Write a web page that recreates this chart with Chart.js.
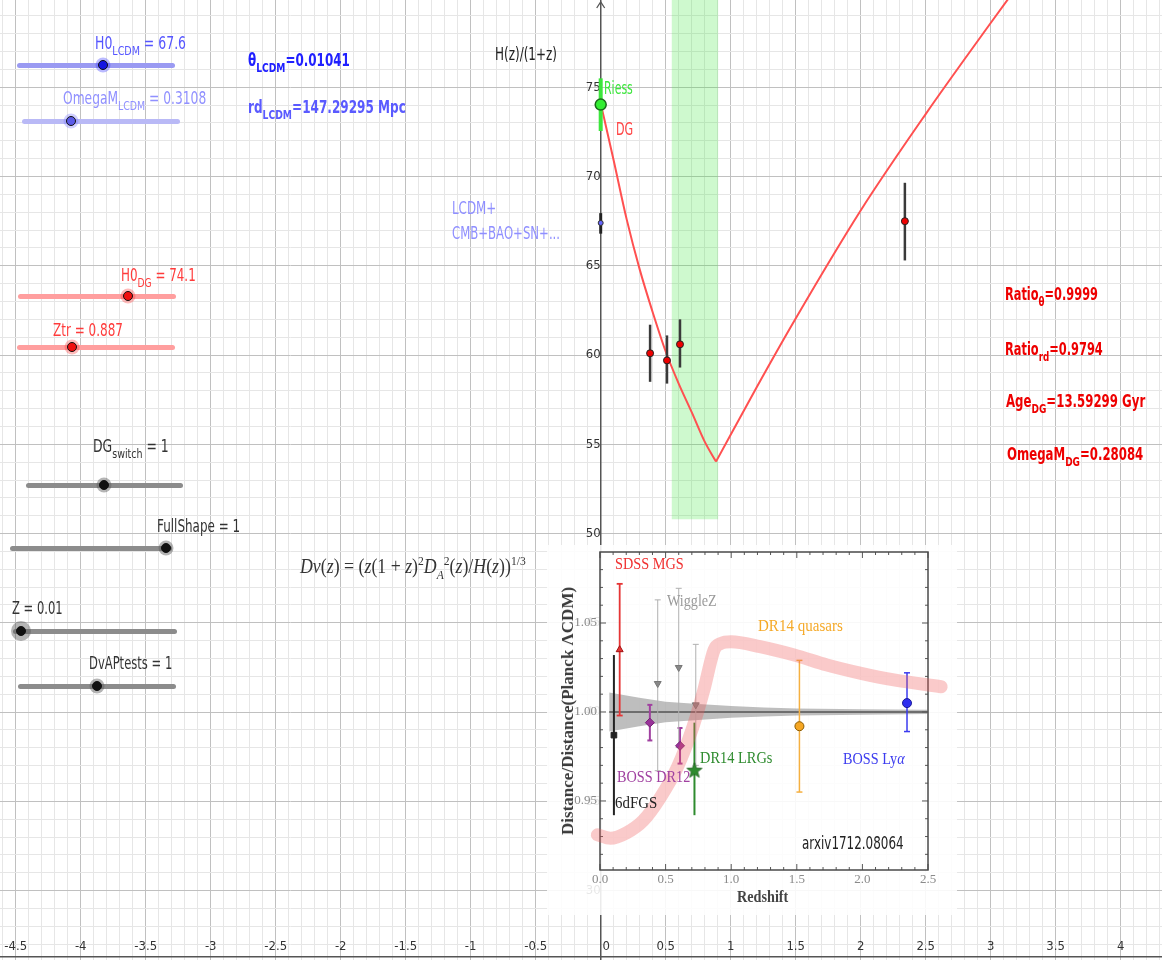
<!DOCTYPE html>
<html>
<head>
<meta charset="utf-8">
<title>DG vs LCDM</title>
<script src="https://cdn.jsdelivr.net/npm/chart.js@4.4.1/dist/chart.umd.min.js"></script>
<style>
  html, body { margin: 0; padding: 0; background: #fff; overflow: hidden; }
  #wrap { position: relative; width: 1162px; height: 960px; }
  #main { position: absolute; left: 0; top: 0; }
  #inset { position: absolute; left: 547px; top: 545px; background: rgba(255,255,255,0.88); }
  .t { position: absolute; white-space: nowrap; font-family: "DejaVu Sans", sans-serif; font-size: 17px; line-height: 20px; transform-origin: 0 0; color: #333; }
  .b { font-weight: bold; }
  .s { font-size: 13px; position: relative; top: 6px; }
  .p { font-size: 13px; position: relative; top: -8px; }
  .serif { font-family: "Liberation Serif", serif; }
  .sl { position: absolute; height: 5px; margin-top: -2.5px; border-radius: 3px; }
  .kn { position: absolute; width: 8px; height: 8px; border: 1.5px solid #111; border-radius: 50%; transform: translate(-50%,-50%); }
</style>
</head>
<body>
<div id="wrap">
  <canvas id="main" width="1162" height="960"></canvas>

  <!-- sliders -->
  <div class="sl" style="left:17px;top:65px;width:158px;background:#9a9af2"></div>
  <div class="kn" style="left:103px;top:65px;background:#1515e0;box-shadow:0 0 0 2.5px rgba(60,60,255,.35)"></div>
  <div class="sl" style="left:22px;top:121px;width:158px;background:#b9b9f6"></div>
  <div class="kn" style="left:71px;top:121px;background:#5b5be8;box-shadow:0 0 0 2.5px rgba(120,120,255,.35)"></div>
  <div class="sl" style="left:18px;top:296px;width:158px;background:#ff9e9e"></div>
  <div class="kn" style="left:128px;top:296px;background:#f01010;box-shadow:0 0 0 2.5px rgba(255,60,60,.35)"></div>
  <div class="sl" style="left:17px;top:347px;width:158px;background:#ff9e9e"></div>
  <div class="kn" style="left:72px;top:347px;background:#f01010;box-shadow:0 0 0 2.5px rgba(255,60,60,.35)"></div>
  <div class="sl" style="left:26px;top:485px;width:157px;background:#8c8c8c"></div>
  <div class="kn" style="left:104px;top:485px;background:#111;box-shadow:0 0 0 2.5px rgba(90,90,90,.45)"></div>
  <div class="sl" style="left:10px;top:548px;width:162px;background:#8c8c8c"></div>
  <div class="kn" style="left:166px;top:548px;background:#111;box-shadow:0 0 0 2.5px rgba(90,90,90,.45)"></div>
  <div class="sl" style="left:13px;top:631px;width:164px;background:#8c8c8c"></div>
  <div class="kn" style="left:21px;top:631px;background:#111;box-shadow:0 0 0 5px rgba(90,90,90,.45)"></div>
  <div class="sl" style="left:18px;top:686px;width:158px;background:#8c8c8c"></div>
  <div class="kn" style="left:97px;top:686px;background:#111;box-shadow:0 0 0 2.5px rgba(90,90,90,.45)"></div>

  <!-- slider captions and readouts -->
  <div class="t" data-w="91" style="left:95px;top:33px;color:#5555ff">H0<span class="s">LCDM</span> = 67.6</div>
  <div class="t" data-w="143" style="left:63px;top:88px;color:#9090ff">OmegaM<span class="s">LCDM</span> = 0.3108</div>
  <div class="t b" data-w="102" style="left:248px;top:50px;color:#2020ff">θ<span class="s">LCDM</span>=0.01041</div>
  <div class="t b" data-w="158" style="left:248px;top:97px;color:#5a5aff">rd<span class="s">LCDM</span>=147.29295 Mpc</div>
  <div class="t" data-w="75" style="left:121px;top:265px;color:#ff3b3b">H0<span class="s">DG</span> = 74.1</div>
  <div class="t" data-w="70" style="left:53px;top:320px;color:#ff3b3b">Ztr = 0.887</div>
  <div class="t" data-w="76" style="left:93px;top:436px">DG<span class="s">switch</span> = 1</div>
  <div class="t" data-w="83" style="left:157px;top:516px">FullShape = 1</div>
  <div class="t" data-w="51" style="left:12px;top:598px">Z = 0.01</div>
  <div class="t" data-w="83" style="left:89px;top:653px">DvAPtests = 1</div>

  <div class="t" data-w="62" style="left:495px;top:44px;color:#222">H(z)/(1+z)</div>
  <div class="t" data-w="29" style="left:604px;top:78px;color:#3ce63c">Riess</div>
  <div class="t" data-w="17" style="left:616px;top:119px;color:#ff4444">DG</div>
  <div class="t" data-w="44" style="left:452px;top:198px;color:#8f8fff">LCDM+</div>
  <div class="t" data-w="108" style="left:452px;top:223px;color:#8f8fff">CMB+BAO+SN+...</div>

  <div class="t b" data-w="93" style="left:1005px;top:284px;color:#ee0000">Ratio<span class="s">θ</span>=0.9999</div>
  <div class="t b" data-w="98" style="left:1005px;top:339px;color:#ee0000">Ratio<span class="s">rd</span>=0.9794</div>
  <div class="t b" data-w="139" style="left:1006px;top:391px;color:#ee0000">Age<span class="s">DG</span>=13.59299 Gyr</div>
  <div class="t b" data-w="136" style="left:1007px;top:444px;color:#ee0000">OmegaM<span class="s">DG</span>=0.28084</div>

  <div class="t serif" data-w="226" style="left:300px;top:554px;font-size:20px;line-height:24px;color:#333"><i>Dv</i>(<i>z</i>) = (<i>z</i>(1 + <i>z</i>)<span class="p">2</span><i>D</i><span class="s"><i>A</i></span><span class="p">2</span>(<i>z</i>)/<i>H</i>(<i>z</i>))<span class="p">1/3</span></div>

  <canvas id="inset" width="410" height="370"></canvas>

  <!-- inset annotations -->
  <div class="t serif" data-w="69" style="left:615px;top:554px;color:#f03030">SDSS MGS</div>
  <div class="t serif" data-w="50" style="left:667px;top:591px;color:#9a9a9a">WiggleZ</div>
  <div class="t serif" data-w="85" style="left:758px;top:616px;color:#f5a928">DR14 quasars</div>
  <div class="t serif" data-w="72" style="left:700px;top:748px;color:#2e8b2e">DR14 LRGs</div>
  <div class="t serif" data-w="62" style="left:843px;top:749px;color:#3b3bef">BOSS Ly<i>α</i></div>
  <div class="t serif" data-w="73" style="left:617px;top:767px;color:#a040a0">BOSS DR12</div>
  <div class="t serif" data-w="42" style="left:615px;top:793px;color:#222">6dFGS</div>
  <div class="t" data-w="102" style="left:802px;top:833px;color:#222">arxiv1712.08064</div>
  <div class="t serif b" data-w="51" style="left:737px;top:887px;color:#444">Redshift</div>
  <div class="t serif b" data-w="248" data-rot="1" style="left:568px;top:711px;color:#3a3a3a;font-size:16px">Distance/Distance(Planck ΛCDM)</div>
</div>

<script>
// red DG curve, H(z)/(1+z) (falling branch, then rising branch)
const dgZLeft  = [0, 0.1, 0.2, 0.3, 0.4, 0.5, 0.6, 0.7, 0.8, 0.887];
const dgHLeft  = [74.1, 70.9, 67.6, 64.8, 62.4, 60.2, 58.4, 56.8, 55.15, 54.03];
const dgZRight = [0.887, 1.2, 1.5, 2.0, 2.5, 3.0, 3.2];
const dgHRight = [54.03, 58.2, 62.05, 68.1, 73.5, 78.6, 80.6];

// green Ztr band
const bandZ = [0.545, 0.905];
const bandTop = [82, 82];
const bandFloor = 50.8;

// Riess and LCDM values at z=0
const riessH = 74.03, riessLo = 72.55, riessHi = 75.5;
const lcdmH = 67.4, lcdmLo = 66.8, lcdmHi = 67.95;

// H(z)/(1+z) measurements
const hzZ  = [0.38, 0.51, 0.61, 2.34];
const hzV  = [60.1, 59.7, 60.6, 67.5];
const hzLo = [58.5, 58.4, 59.3, 65.3];
const hzHi = [61.7, 61.1, 62.0, 69.65];

const xLabelTicks = [-4.5, -4, -3.5, -3, -2.5, -2, -1.5, -1, -0.5, 0, 0.5, 1, 1.5, 2, 2.5, 3, 3.5, 4];
const yLabelTicks = [30, 35, 40, 45, 50, 55, 60, 65, 70, 75];

// inset (arxiv 1712.08064 figure)
const pinkZ = [-0.02, 0.08, 0.2, 0.33, 0.46, 0.59, 0.71, 0.79, 0.87, 0.92, 1.0, 1.22, 1.48, 1.73, 1.99, 2.24, 2.6];
const pinkV = [0.931, 0.929, 0.932, 0.939, 0.952, 0.969, 0.992, 1.012, 1.035, 1.0385, 1.0395, 1.0367, 1.032, 1.0264, 1.0217, 1.018, 1.0142];

const greyZ  = [0.07, 0.3, 0.5, 0.75, 1.0, 1.25, 1.5, 2.0, 2.5];
const greyHi = [1.011, 1.008, 1.0058, 1.0045, 1.0033, 1.0025, 1.002, 1.0015, 1.0012];
const greyLo = [0.989, 0.992, 0.9942, 0.9955, 0.9967, 0.9975, 0.998, 0.9985, 0.9988];

const surveys   = ['6dFGS', 'SDSS MGS', 'WiggleZ', 'BOSS DR12', 'DR14 LRGs', 'DR14 quasars', 'BOSS Lya'];
const baoSurvey = [0, 1, 2, 2, 2, 3, 3, 4, 5, 6];
const baoZ  = [0.106, 0.15, 0.44, 0.60, 0.73, 0.38, 0.61, 0.72, 1.52, 2.34];
const baoV  = [0.987, 1.035, 1.016, 1.025, 1.004, 0.994, 0.981, 0.967, 0.992, 1.005];
const baoLo = [0.942, 0.998, 0.967, 0.980, 0.970, 0.984, 0.971, 0.942, 0.955, 0.989];
const baoHi = [1.032, 1.072, 1.063, 1.0695, 1.038, 1.004, 0.991, 0.994, 1.029, 1.022];

const insetXTicks = [0, 0.5, 1, 1.5, 2, 2.5];
const insetYTicks = [0.95, 1.00, 1.05];

// grid positions of the main view: every 0.1 across, every 1 up
const xGrid = [], yGrid = [];
for (let k = -46; k <= 43; k++) xGrid.push(k / 10);
for (let k = 27; k <= 79; k++) yGrid.push(k);

// squeeze labels to the widths measured on the picture
document.querySelectorAll('[data-w]').forEach(el => {
    const k = (+el.dataset.w / el.offsetWidth).toFixed(3);
    el.style.transform = (el.dataset.rot ? 'translate(-50%,-50%) rotate(-90deg) ' : '') + 'scaleX(' + k + ')';
    if (el.dataset.rot) el.style.transformOrigin = '50% 50%';
});

const near = (list, v) => list.some(t => Math.abs(t - v) < 1e-6);
const pts = (xs, ys) => xs.map((x, i) => ({ x, y: ys[i] }));
const tickFont = { family: '"Liberation Sans Narrow", "DejaVu Sans Condensed", "DejaVu Sans", sans-serif', size: 13 };
const noPad = s => { s.paddingLeft = s.paddingRight = s.paddingTop = s.paddingBottom = 0; };

const arrowPlugin = {
    id: 'arrow',
    afterDraw(chart) {
        const { ctx, scales: { x } } = chart;
        const px = x.getPixelForValue(0);
        ctx.save();
        ctx.strokeStyle = '#555'; ctx.lineWidth = 1.3;
        ctx.beginPath(); ctx.moveTo(px - 4, 8); ctx.lineTo(px, 2); ctx.lineTo(px + 4, 8); ctx.stroke();
        ctx.restore();
    }
};

const mainSets = [
    { data: pts(bandZ, bandTop), showLine: true, borderWidth: 0, pointRadius: 0, fill: { value: bandFloor }, backgroundColor: 'rgba(60,230,60,0.25)', order: 10 },
    { data: pts(dgZLeft, dgHLeft), showLine: true, borderColor: '#ff5050', borderWidth: 2, pointRadius: 0, cubicInterpolationMode: 'monotone', order: 6 },
    { data: pts(dgZRight, dgHRight), showLine: true, borderColor: '#ff5050', borderWidth: 2, pointRadius: 0, cubicInterpolationMode: 'monotone', order: 6 },
    { data: [{ x: 0, y: riessLo }, { x: 0, y: riessHi }], showLine: true, borderColor: '#3ce63c', borderWidth: 4, pointRadius: 0, order: 4 },
    { data: [{ x: 0, y: lcdmLo }, { x: 0, y: lcdmHi }], showLine: true, borderColor: '#222', borderWidth: 3, pointRadius: 0, order: 4 },
    { data: [{ x: 0, y: riessH }], pointRadius: 5.5, backgroundColor: '#33ee33', borderColor: '#1a6a1a', borderWidth: 1.5, order: 1 },
    { data: [{ x: 0, y: lcdmH }], pointRadius: 2.5, backgroundColor: '#6666ff', borderColor: '#333', borderWidth: 1, order: 1 },
    { data: pts(hzZ, hzV), pointRadius: 3.5, backgroundColor: '#ee0000', borderColor: '#222', borderWidth: 1, order: 1 }
];
hzZ.forEach((z, i) => mainSets.push({
    data: [{ x: z, y: hzLo[i] }, { x: z, y: hzHi[i] }], showLine: true,
    borderColor: '#3a3a3a', borderWidth: 2.5, pointRadius: 0, order: 3
}));

new Chart(document.getElementById('main'), {
    type: 'scatter',
    data: { datasets: mainSets },
    options: {
        responsive: false, animation: false, events: [],
        layout: { padding: 0, autoPadding: false },
        plugins: { legend: { display: false }, tooltip: { enabled: false } },
        scales: {
            x: {
                type: 'linear', min: -4.621, max: 4.318, bounds: 'data', position: { y: 26.28 },
                afterBuildTicks: s => { s.ticks = xGrid.map(v => ({ value: v })); },
                afterFit: noPad,
                ticks: {
                    autoSkip: false, maxRotation: 0, padding: -18,
                    color: '#333', font: tickFont,
                    callback: v => near(xLabelTicks, v) ? (Math.abs(v) < 1e-9 ? '   0' : String(v)) : ''
                },
                grid: { drawTicks: false, color: c => near(xLabelTicks, c.tick.value) ? '#c0c0c0' : '#e6e6e6' },
                border: { color: '#555', width: 1.5 }
            },
            y: {
                type: 'linear', min: 26.11, max: 79.89, bounds: 'data', position: { x: 0 },
                afterBuildTicks: s => { s.ticks = yGrid.map(v => ({ value: v })); },
                afterFit: noPad,
                ticks: {
                    autoSkip: false, padding: 7,
                    color: '#333', font: tickFont,
                    callback: v => near(yLabelTicks, v) ? String(v) : ''
                },
                grid: { drawTicks: false, color: c => near(yLabelTicks, c.tick.value) ? '#c0c0c0' : '#e6e6e6' },
                border: { color: '#555', width: 1.5 }
            }
        }
    },
    plugins: [arrowPlugin]
});

// ---------- inset ----------
function starImage(r, color) {
    const c = document.createElement('canvas');
    c.width = c.height = 2 * r + 2;
    const g = c.getContext('2d');
    g.beginPath();
    for (let i = 0; i < 10; i++) {
        const a = -Math.PI / 2 + i * Math.PI / 5, rr = i % 2 ? r * 0.42 : r;
        g.lineTo(r + 1 + rr * Math.cos(a), r + 1 + rr * Math.sin(a));
    }
    g.closePath(); g.fillStyle = color; g.fill();
    g.strokeStyle = '#1d5e1d'; g.lineWidth = 0.8; g.stroke();
    return c;
}

const surveyStyle = [
    { bar: '#222222', w: 2,   cap: 0,   fill: '#222222', edge: '#222', ps: 'rect',     r: 4, rot: 0 },
    { bar: '#e53535', w: 1.8, cap: 3,   fill: '#e53535', edge: '#a01010', ps: 'triangle', r: 4, rot: 0 },
    { bar: '#b0b0b0', w: 1,   cap: 3,   fill: '#888888', edge: '#777', ps: 'triangle', r: 4,   rot: 180 },
    { bar: '#a040a0', w: 2,   cap: 2.5, fill: '#993399', edge: '#772277', ps: 'rectRot', r: 4.5, rot: 0 },
    { bar: '#2e8b2e', w: 2,   cap: 0,   fill: '#2e8b2e', edge: '#2e8b2e', ps: starImage(8, '#2e8b2e'), r: 8, rot: 0 },
    { bar: '#f5b040', w: 1.5, cap: 3,   fill: '#f5a623', edge: '#8a5a00', ps: 'circle',   r: 4.5, rot: 0 },
    { bar: '#3b3bef', w: 1.5, cap: 3,   fill: '#2f2fef', edge: '#1a1a99', ps: 'circle',   r: 4.5, rot: 0 }
];

const insetSets = [
    { data: pts(pinkZ, pinkV), showLine: true, borderColor: 'rgba(240,90,90,0.32)', borderWidth: 13,
      borderCapStyle: 'round', borderJoinStyle: 'round', cubicInterpolationMode: 'monotone', pointRadius: 0, clip: false, order: 0 },
    { data: pts(greyZ, greyHi), showLine: true, borderWidth: 0, pointRadius: 0, fill: '+1', backgroundColor: 'rgba(110,110,110,0.45)', order: 6 },
    { data: pts(greyZ, greyLo), showLine: true, borderWidth: 0, pointRadius: 0, order: 6 },
    { data: [{ x: greyZ[0], y: 1 }, { x: greyZ[greyZ.length - 1], y: 1 }], showLine: true, borderColor: '#555', borderWidth: 1.5, pointRadius: 0, order: 5 },
    { data: pts(baoZ, baoV), order: 1,
      pointStyle: baoSurvey.map(s => surveyStyle[s].ps),
      pointRadius: baoSurvey.map(s => surveyStyle[s].r),
      pointRotation: baoSurvey.map(s => surveyStyle[s].rot),
      backgroundColor: baoSurvey.map(s => surveyStyle[s].fill),
      borderColor: baoSurvey.map(s => surveyStyle[s].edge), borderWidth: 1 }
];
baoZ.forEach((z, i) => {
    const st = surveyStyle[baoSurvey[i]];
    insetSets.push({
        data: [{ x: z, y: baoLo[i] }, { x: z, y: baoHi[i] }], showLine: true,
        borderColor: st.bar, borderWidth: st.w,
        pointStyle: 'line', pointRadius: st.cap, pointBorderColor: st.bar, pointBorderWidth: st.w, order: 3
    });
});

const framePlugin = {
    id: 'frame',
    beforeDatasetsDraw(chart) {
        const { ctx, chartArea: a, scales: { x, y } } = chart;
        ctx.save();
        ctx.strokeStyle = '#555'; ctx.lineWidth = 1;
        ctx.beginPath();
        for (let k = 0; k <= 25; k++) {
            const px = x.getPixelForValue(k / 10), L = k % 5 ? 3 : 6;
            ctx.moveTo(px, a.bottom); ctx.lineTo(px, a.bottom - L);
            ctx.moveTo(px, a.top); ctx.lineTo(px, a.top + L);
        }
        for (let k = 92; k <= 108; k++) {
            const py = y.getPixelForValue(k / 100), L = k % 5 ? 3 : 6;
            ctx.moveTo(a.left, py); ctx.lineTo(a.left + L, py);
            ctx.moveTo(a.right, py); ctx.lineTo(a.right - L, py);
        }
        ctx.stroke();
        ctx.lineWidth = 1.5; ctx.strokeStyle = '#4a4a4a';
        ctx.strokeRect(a.left, a.top, a.right - a.left, a.bottom - a.top);
        ctx.restore();
    }
};

const serifTicks = { family: '"Liberation Serif", serif', size: 13 };
new Chart(document.getElementById('inset'), {
    type: 'scatter',
    data: { datasets: insetSets },
    options: {
        responsive: false, animation: false, events: [],
        layout: { padding: { top: 7, right: 29, left: 0, bottom: 0 }, autoPadding: false },
        plugins: { legend: { display: false }, tooltip: { enabled: false } },
        scales: {
            x: {
                type: 'linear', min: 0, max: 2.5, bounds: 'data',
                afterBuildTicks: s => { s.ticks = insetXTicks.map(v => ({ value: v })); },
                afterFit: s => { s.height = 45; s.paddingLeft = s.paddingRight = 0; },
                ticks: { autoSkip: false, maxRotation: 0, padding: 2, color: '#8a8a8a', font: serifTicks, callback: v => v.toFixed(1) },
                grid: { display: false, drawTicks: false }, border: { display: false }
            },
            y: {
                type: 'linear', min: 0.9112, max: 1.0899, bounds: 'data',
                afterBuildTicks: s => { s.ticks = insetYTicks.map(v => ({ value: v })); },
                afterFit: s => { s.width = 53; s.paddingTop = s.paddingBottom = 0; },
                ticks: { autoSkip: false, padding: 3, color: '#8a8a8a', font: serifTicks, callback: v => v.toFixed(2) },
                grid: { display: false, drawTicks: false }, border: { display: false }
            }
        }
    },
    plugins: [framePlugin]
});
</script>
</body>
</html>
